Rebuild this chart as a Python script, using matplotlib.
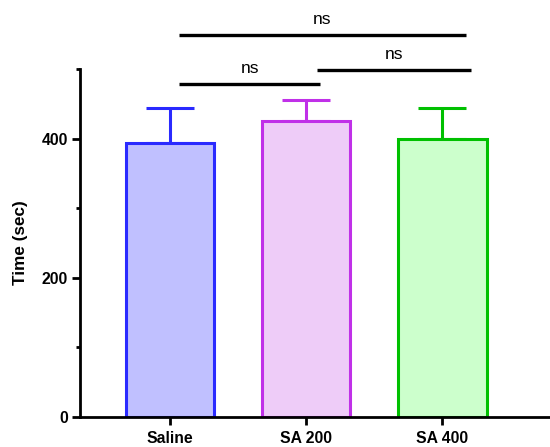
import matplotlib.pyplot as plt

plt.rcParams['font.family'] = ['Liberation Sans', 'DejaVu Sans']

groups = ['Saline', 'SA 200', 'SA 400']
means = [393, 425, 399]
sems = [51, 30, 45]
fills = ['#c0c0ff', '#eeccf8', '#ccffcc']
edges = ['#2a2aff', '#c030e8', '#00c000']

# significance brackets: (start x, end x, height, label)
brackets = [(0.07, 2.17, 549, 'ns'), (0.07, 1.10, 478, 'ns'), (1.08, 2.21, 498, 'ns')]

fig = plt.figure(figsize=(5.5, 4.47), dpi=100)
ax = fig.add_axes([0.1455, 0.068, 0.8545, 0.7776])

x = range(len(groups))
for i in x:
    ax.bar(i, means[i], width=0.65, color=fills[i], edgecolor=edges[i], linewidth=2.2, zorder=2)
    ax.errorbar(i, means[i], yerr=[[0], [sems[i]]], color=edges[i], elinewidth=2.2,
                capsize=17, capthick=2.2, zorder=1)

for x0, x1, h, lab in brackets:
    ax.plot([x0, x1], [h, h], color='black', lw=2.4, clip_on=False, solid_capstyle='butt')
    ax.text((x0 + x1) / 2, h + 12, lab, ha='center', va='bottom', fontsize=12.5)

ax.set_xlim(-0.66, 2.79)
ax.set_ylim(0, 500)
ax.set_yticks([0, 200, 400])
ax.set_yticks([100, 300, 500], minor=True)
ax.set_xticks(list(x))
ax.set_xticklabels(groups, fontweight='bold', fontsize=11.3)
for t in ax.get_yticklabels():
    t.set_fontweight('bold')
    t.set_fontsize(11.3)
ax.set_ylabel('Time (sec)', fontweight='bold', fontsize=12.3, labelpad=10)

ax.spines['top'].set_visible(False)
ax.spines['right'].set_visible(False)
ax.spines['left'].set_linewidth(2)
ax.spines['bottom'].set_linewidth(2)
ax.tick_params(axis='both', which='major', width=2, length=6, pad=2.5)
ax.tick_params(axis='x', which='major', pad=4.5)
ax.tick_params(axis='y', which='minor', width=2, length=3)

fig.savefig('out.png', dpi=100)
